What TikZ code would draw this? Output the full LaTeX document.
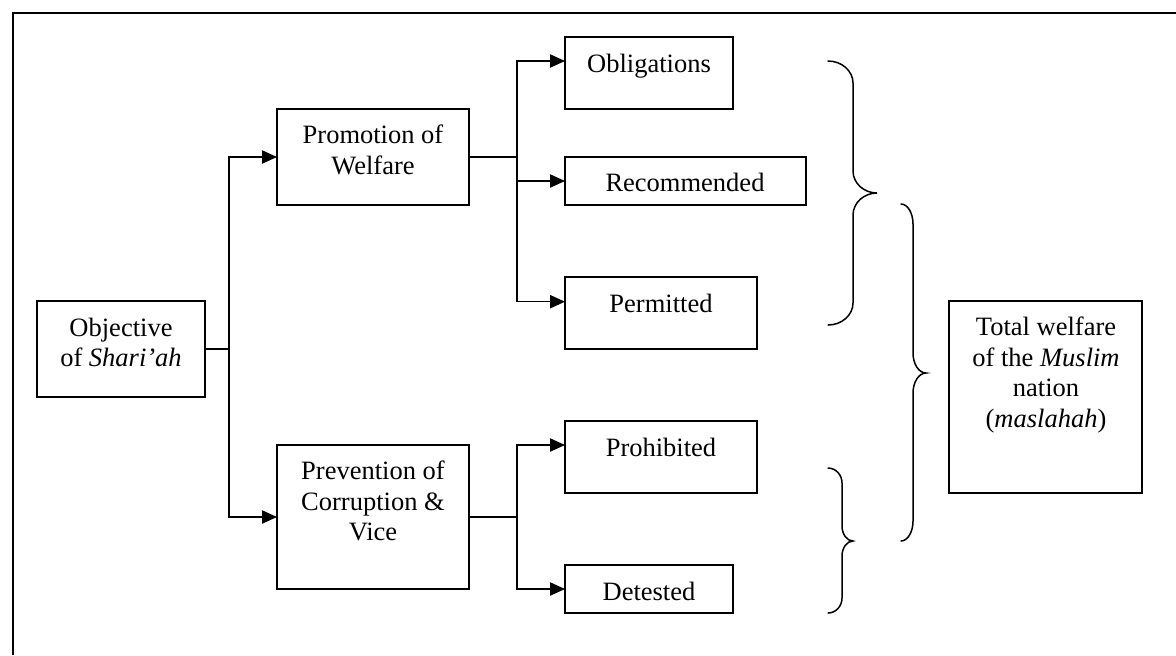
\documentclass[tikz,border=0pt]{standalone}
\usepackage{fontspec}
\setmainfont{Liberation Serif}
\usetikzlibrary{arrows.meta}

% right curly brace: x-end, x-bar, x-tip, y-top, y-tip, y-bottom, corner radius
\newcommand\curlybrace[7]{%
  \draw[brace] (#1,#4)
    .. controls ({#1+0.55*(#2-#1)},#4) and (#2,{#4+0.45*#7}) .. (#2,{#4+#7})
    -- (#2,{#5-#7})
    .. controls (#2,{#5-0.45*#7}) and ({#3-0.55*(#3-#2)},#5) .. (#3,#5)
    .. controls ({#3-0.55*(#3-#2)},#5) and (#2,{#5+0.45*#7}) .. (#2,{#5+#7})
    -- (#2,{#6-#7})
    .. controls (#2,{#6-0.45*#7}) and ({#1+0.55*(#2-#1)},#6) .. (#1,#6);}

\tikzset{
  box/.style={draw, line width=0.85pt, rectangle, inner sep=0pt, outer sep=0pt, anchor=north west},
  wh/.style 2 args={minimum width={#1*0.5pt}, minimum height={#2*0.5pt}},
  txt/.style={inner sep=0pt, align=center, font=\fontsize{13.25pt}{15.25pt}\selectfont},
  link/.style={line width=0.75pt},
  arr/.style={line width=0.75pt, -{Triangle[length=7.5pt, width=6.6pt]}},
  brace/.style={line width=0.75pt, line cap=round},
  frame/.style={line width=1pt}
}

\begin{document}
\begin{tikzpicture}[x=0.5pt, y=-0.5pt]
\useasboundingbox (0,0) rectangle (1176,655);

% outer frame (top and left edges)
\draw[frame] (13,655) -- (13,13) -- (1176,13);

% boxes
\node[box, wh={168}{96}]  (obj)  at (37,301)  {};
\node[box, wh={192}{96}]  (prom) at (277,109) {};
\node[box, wh={192}{144}] (prev) at (277,445) {};
\node[box, wh={168}{72}]  (obl)  at (565,37)  {};
\node[box, wh={241}{48}]  (rec)  at (565,157) {};
\node[box, wh={192}{72}]  (perm) at (565,277) {};
\node[box, wh={192}{72}]  (proh) at (565,421) {};
\node[box, wh={168}{48}]  (det)  at (565,565) {};
\node[box, wh={193}{192}] (tot)  at (949,301) {};

% box texts
\node[txt] (objT)  at (121,342.2) {Objective\\of \textit{Shari’ah}};
\node[txt] (promT) at (373,149.9) {Promotion of\\Welfare};
\node[txt] (prevT) at (373,501.3) {Prevention of\\Corruption \&\\Vice};
\node[txt, anchor=base] (oblT)  at (649,72.7)  {Obligations};
\node[txt, anchor=base] (recT)  at (685,191.7) {Recommended};
\node[txt, anchor=base] (permT) at (661,312.7) {Permitted};
\node[txt, anchor=base] (prohT) at (661,456.7) {Prohibited};
\node[txt, anchor=base] (detT)  at (649,600)   {Detested};
\node[txt] (totT) at (1046,375) {Total welfare\\of the \textit{Muslim}\\nation\\(\textit{maslahah})};

% junction points, level with the box sides they leave
\path (obj.east)  -- ++(24,0) coordinate (j0);
\path (prom.east) -- ++(48,0) coordinate (j1);
\path (prev.east) -- ++(48,0) coordinate (j2);

% connectors from the objective
\draw[link] (obj.east) -- (j0);
\draw[arr] (j0) |- (prom);
\draw[arr] (j0) |- (prev);

% promotion of welfare branches
\draw[link] (prom.east) -- (j1);
\draw[arr] (j1) |- ([yshift=6pt]obl.west);
\draw[arr] (j1) |- (rec);
\draw[arr] (j1) |- ([yshift=5.65pt]perm.west);

% prevention branches
\draw[link] (prev.east) -- (j2);
\draw[arr] (j2) |- ([yshift=6pt]proh.west);
\draw[arr] (j2) |- (det);

% braces
\curlybrace{828}{853}{877}{61}{193}{325}{22}
\curlybrace{901}{913}{926}{204}{373}{541}{20}
\curlybrace{828}{842}{853}{468}{541}{613}{15}
\end{tikzpicture}
\end{document}
